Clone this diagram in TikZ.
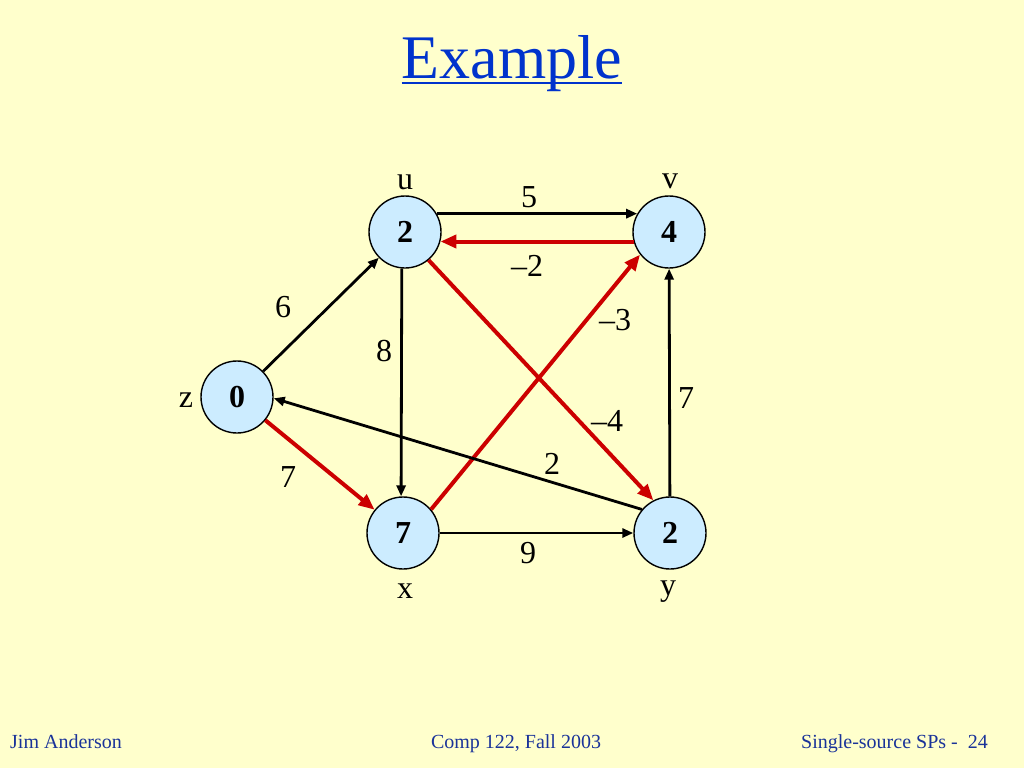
\documentclass[tikz,border=0pt]{standalone}
\usepackage{fontspec}
\setmainfont{Liberation Serif}
\usetikzlibrary{arrows.meta}
\definecolor{fundo}{HTML}{FFFFCC}
\definecolor{azulno}{HTML}{CCECFF}
\definecolor{vermelho}{HTML}{CC0000}
\definecolor{titulo}{HTML}{0033CC}
\definecolor{rodape}{HTML}{1A3399}
\newcommand{\rotulo}{\fontsize{32}{36}\selectfont}

\begin{document}
\begin{tikzpicture}[x=1pt,y=-1pt,
	vertice/.style={circle, draw=black, line width=1.4pt, fill=azulno, minimum size=72pt, inner sep=0pt, font=\rotulo\bfseries},
	preta/.style={line width=2.8pt, -{Triangle[length=11pt,width=9pt]}},
	verm/.style={vermelho, line width=4pt, -{Triangle[length=16pt,width=13pt]}},
	peso/.style={font=\rotulo, inner sep=0pt},
	rod/.style={font=\fontsize{20}{22}\selectfont, text=rodape, inner sep=0pt}]
			%Config
			\fill[fundo] (0,0) rectangle (1024,768);
			\useasboundingbox (0,0) rectangle (1024,768);
			\node[font=\fontsize{62}{70}\selectfont, text=titulo, inner sep=0pt, anchor=base] (titulo) at (512,78) {Example};
			\draw[titulo, line width=2.8pt] ([yshift=-5pt]titulo.base west) -- ([yshift=-5pt]titulo.base east);
			
			%Vertices
			\node[vertice] (u) at (405,232) {2};
			\node[vertice] (v) at (669,232) {4};
			\node[vertice] (z) at (237,397) {0};
			\node[vertice] (x) at (403,533) {7};
			\node[vertice] (y) at (670,533) {2};
			
			%Nomes dos vertices
			\node[peso] (nu) at (405,182) {u};
			\node[peso] (nv) at (670,181) {v};
			\node[peso] (nz) at (186,400) {z};
			\node[peso] (nx) at (405,591) {x};
			\node[peso] (ny) at (668,592) {y};
			
			%Arestas
			\draw[preta] (u.30) -- (v.150);
			\draw[verm] (v.195) -- (u.-15);
			\draw[preta] (z) -- (u);
			\draw[preta] (u.265) -- (x.93);
			\draw[verm] (u.-50) -- (y.117);
			\draw[verm] (x.40) -- (v.218);
			\draw[verm] (z) -- (x);
			\draw[preta] (y.140) -- (z.-2);
			\draw[preta] (y) -- (v);
			\draw[preta] (x) -- (y);
			
			%Pesos
			\node[peso] (p5) at (529,197) {5};
			\node[peso] (p-2) at (527,266) {--2};
			\node[peso] (p6) at (283,307) {6};
			\node[peso] (p8) at (384,351) {8};
			\node[peso] (p-3) at (615,320) {--3};
			\node[peso] (p7a) at (686,398) {7};
			\node[peso] (p-4) at (607,421) {--4};
			\node[peso] (p2) at (552,464) {2};
			\node[peso] (p7b) at (288,477) {7};
			\node[peso] (p9) at (528,553) {9};
			
			%Rodape
			\node[rod, anchor=base west] (autor) at (10,748) {Jim Anderson};
			\node[rod, anchor=base] (curso) at (516,748) {Comp 122, Fall 2003};
			\node[rod, anchor=base east] (pagina) at (988,748) {Single-source SPs -\ \ 24};
\end{tikzpicture}
\end{document}
